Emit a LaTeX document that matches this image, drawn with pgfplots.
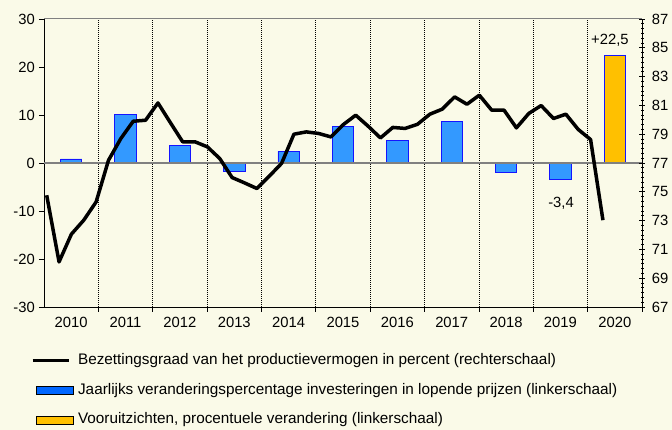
\documentclass[border=0pt]{standalone}
\usepackage{fontspec}
\setmainfont{Liberation Sans}
\usepackage{pgfplots}
\pgfplotsset{compat=1.18}
\definecolor{bg}{RGB}{250,250,232}
\definecolor{barblue}{RGB}{51,153,255}
\definecolor{edgeblue}{RGB}{20,20,255}
\definecolor{legblue}{RGB}{0,102,255}
\definecolor{barorange}{RGB}{255,192,0}
\definecolor{zerogray}{RGB}{128,128,128}
\newcommand{\cf}{\fontsize{14.8}{17}\selectfont}
\newcommand{\lf}{\fontsize{15.3}{18}\selectfont}
\pgfplotstableread{
x y
0 0.85
1 10.1
2 3.7
3 -1.85
4 2.4
5 7.7
6 4.75
7 8.6
8 -2.05
9 -3.4
}\invest
\pgfplotstableread{
x y
10 22.5
}\vooruit
\pgfplotstableread{
k v
0 74.76
1 70.13
2 72.06
3 73.03
4 74.30
5 77.19
6 78.70
7 79.90
8 79.97
9 81.17
10 79.81
11 78.47
12 78.47
13 78.12
14 77.31
15 75.99
16 75.62
17 75.23
18 76.08
19 76.97
20 79.00
21 79.16
22 79.05
23 78.81
24 79.67
25 80.32
26 79.56
27 78.74
28 79.47
29 79.40
30 79.69
31 80.39
32 80.74
33 81.59
34 81.08
35 81.71
36 80.67
37 80.67
38 79.44
39 80.44
40 80.99
41 80.09
42 80.39
43 79.33
44 78.63
45 73.03
}\bezet
\begin{document}
\cf
\begin{tikzpicture}
\fill[bg] (0,0) rectangle (672pt,430pt);
\path[use as bounding box] (0,0) rectangle (672pt,430pt);
\begin{axis}[
  at={(44pt,123pt)}, anchor=south west,
  scale only axis, width=598pt, height=288pt,
  xmin=-0.5, xmax=10.5, ymin=-30, ymax=30,
  axis x line*=bottom, axis y line*=left,
  axis line style={-, black, line width=0.9pt},
  ytick={-30,-20,...,30},
  xtick={0.5,1.5,...,10.5},
  xticklabels={2010,2011,2012,2013,2014,2015,2016,2017,2018,2019,2020},
  xticklabel style={xshift=-27.18pt, font=\cf},
  yticklabel style={font=\cf, xshift=1pt},
  /pgf/number format/assume math mode=true,
  tick align=outside, major tick length=5pt,
  tick style={black, line width=0.8pt},
  xmajorgrids, major x grid style={black, line width=0.7pt, dash pattern=on 1pt off 1pt},
  ybar, bar width=21.3pt, bar shift=0pt,
  legend style={at={(0,0)}, anchor=north west, xshift=-13pt, yshift=-46.5pt,
    draw=none, fill=none, inner sep=0pt, row sep=15pt, column sep=4pt,
    nodes={inner sep=0pt, text height=11pt, text depth=3.5pt, font=\lf}},
  legend cell align=left,
]
\addlegendimage{legend image code/.code={\draw[black, line width=3pt] (0pt,0pt) -- (36pt,0pt);}}
\addlegendentry{Bezettingsgraad van het productievermogen in percent (rechterschaal)}
\addplot[fill=barblue, draw=edgeblue, line width=0.8pt,
  legend image code/.code={\draw[fill=legblue, draw=black, line width=0.8pt] (4pt,-4pt) rectangle (41pt,4pt);}]
  table[x=x, y=y] {\invest};
\addlegendentry{Jaarlijks veranderingspercentage investeringen in lopende prijzen (linkerschaal)}
\addplot[fill=barorange, draw=edgeblue, line width=0.8pt,
  legend image code/.code={\draw[fill=barorange, draw=black, line width=0.8pt] (4pt,-4pt) rectangle (41pt,4pt);}]
  table[x=x, y=y] {\vooruit};
\addlegendentry{Vooruitzichten, procentuele verandering (linkerschaal)}
\draw[zerogray, line width=1.5pt] (axis cs:-0.5,0) -- (axis cs:10.5,0);
\draw[zerogray, line width=1pt] (rel axis cs:0,1) -- (rel axis cs:1,1);
\node[font=\cf] at (axis cs:9.91,25.6) {+22,5};
\node[font=\cf] at (axis cs:9.01,-8.4) {-3,4};
\end{axis}
\begin{axis}[
  at={(44pt,123pt)}, anchor=south west,
  scale only axis, width=598pt, height=288pt,
  xmin=-0.218, xmax=48.16, ymin=67, ymax=87,
  axis x line=none, axis y line*=right,
  axis line style={-, black, line width=0.9pt},
  ytick={67,69,...,87}, minor y tick num=5,
  tick align=center, major tick length=5.5pt, minor tick length=3pt,
  tick style={black, line width=0.8pt},
  yticklabel style={font=\cf, xshift=2pt},
  /pgf/number format/assume math mode=true,
]
\addplot[black, line width=3.5pt, line join=round] table[x=k, y=v] {\bezet};
\end{axis}
\end{tikzpicture}
\end{document}
